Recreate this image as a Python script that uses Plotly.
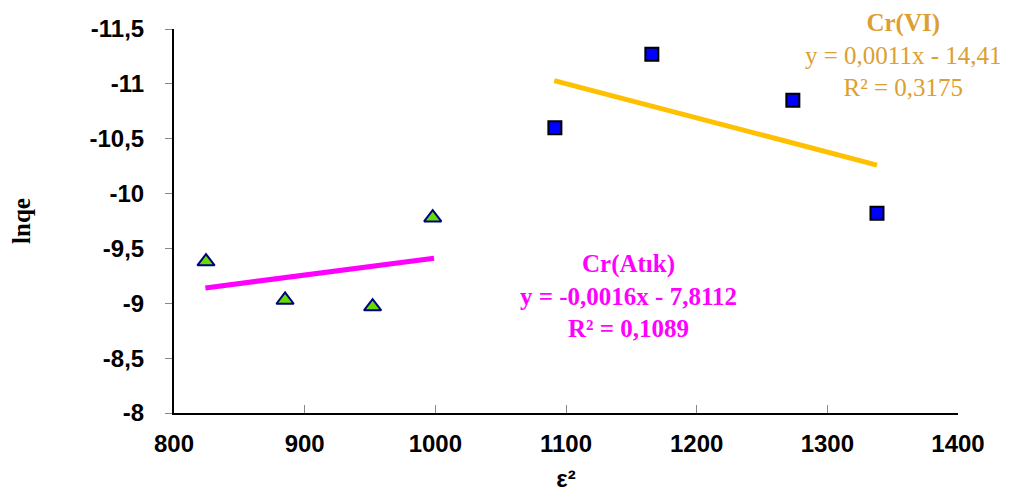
import plotly.graph_objects as go

# Data
atik_x = [824.5, 885, 952, 998]
atik_y = [-9.38, -9.03, -8.97, -9.78]
cr6_x = [1091.5, 1165.7, 1273.6, 1338]
cr6_y = [-10.60, -11.27, -10.85, -9.82]

atik_trend_x = [824, 999]
atik_trend_y = [-9.14, -9.41]
cr6_trend_x = [1091, 1338]
cr6_trend_y = [-11.03, -10.26]

x_ticks = [800, 900, 1000, 1100, 1200, 1300, 1400]
y_ticks = [-8, -8.5, -9, -9.5, -10, -10.5, -11, -11.5]
y_tick_labels = ["-8", "-8,5", "-9", "-9,5", "-10", "-10,5", "-11", "-11,5"]

fig = go.Figure()
fig.add_trace(go.Scatter(x=atik_trend_x, y=atik_trend_y, mode="lines",
                         line=dict(color="#FF00FF", width=5), showlegend=False))
fig.add_trace(go.Scatter(x=cr6_trend_x, y=cr6_trend_y, mode="lines",
                         line=dict(color="#FFC000", width=5), showlegend=False))
fig.add_trace(go.Scatter(x=atik_x, y=atik_y, mode="markers",
                         marker=dict(symbol="triangle-up", size=15, color="#66DD00",
                                     line=dict(color="#000080", width=2)),
                         showlegend=False))
fig.add_trace(go.Scatter(x=cr6_x, y=cr6_y, mode="markers",
                         marker=dict(symbol="square", size=13, color="#0000FF",
                                     line=dict(color="#000000", width=2)),
                         showlegend=False))

serif = "Liberation Serif, Times New Roman, serif"
sans = "Liberation Sans, Arial, sans-serif"
gold = "#DCA032"
fig.add_annotation(xref="paper", yref="paper", x=0.93, y=1.055, showarrow=False,
                   text="<b>Cr(VI)</b><br>y = 0,0011x - 14,41<br>R² = 0,3175",
                   font=dict(family=serif, size=25, color=gold), align="center",
                   xanchor="center", yanchor="top", borderpad=0)
fig.add_annotation(xref="paper", yref="paper", x=0.58, y=0.305, showarrow=False,
                   text="<b>Cr(Atık)<br>y = -0,0016x - 7,8112<br>R² = 0,1089</b>",
                   font=dict(family=serif, size=25, color="#FF00FF"), align="center",
                   xanchor="center", yanchor="middle")

fig.update_layout(
    width=1023, height=492,
    margin=dict(l=166, r=73, t=21, b=87),
    paper_bgcolor="white", plot_bgcolor="white",
    font=dict(family=sans, size=22, color="black"),
    xaxis=dict(range=[800, 1400], tickvals=x_ticks, ticktext=[str(v) for v in x_ticks],
               showgrid=False, zeroline=False, showline=True, linecolor="black", linewidth=2,
               ticks="inside", ticklen=8, tickcolor="#888888", automargin=False,
               ticklabelstandoff=8,
               tickfont=dict(family=sans, size=24, weight="bold"),
               title=dict(text="ε²", font=dict(family=sans, size=24, weight="bold"), standoff=14)),
    yaxis=dict(range=[-8, -11.5], tickvals=y_ticks, ticktext=y_tick_labels,
               showgrid=False, zeroline=False, showline=True, linecolor="black", linewidth=2,
               ticks="outside", ticklen=7, tickcolor="#888888", automargin=False,
               ticklabelstandoff=16,
               tickfont=dict(family=sans, size=24, weight="bold"),
               title=dict(text="lnqe", font=dict(family=serif, size=25, weight="bold"), standoff=60)),
)

fig.write_html("out.html")
